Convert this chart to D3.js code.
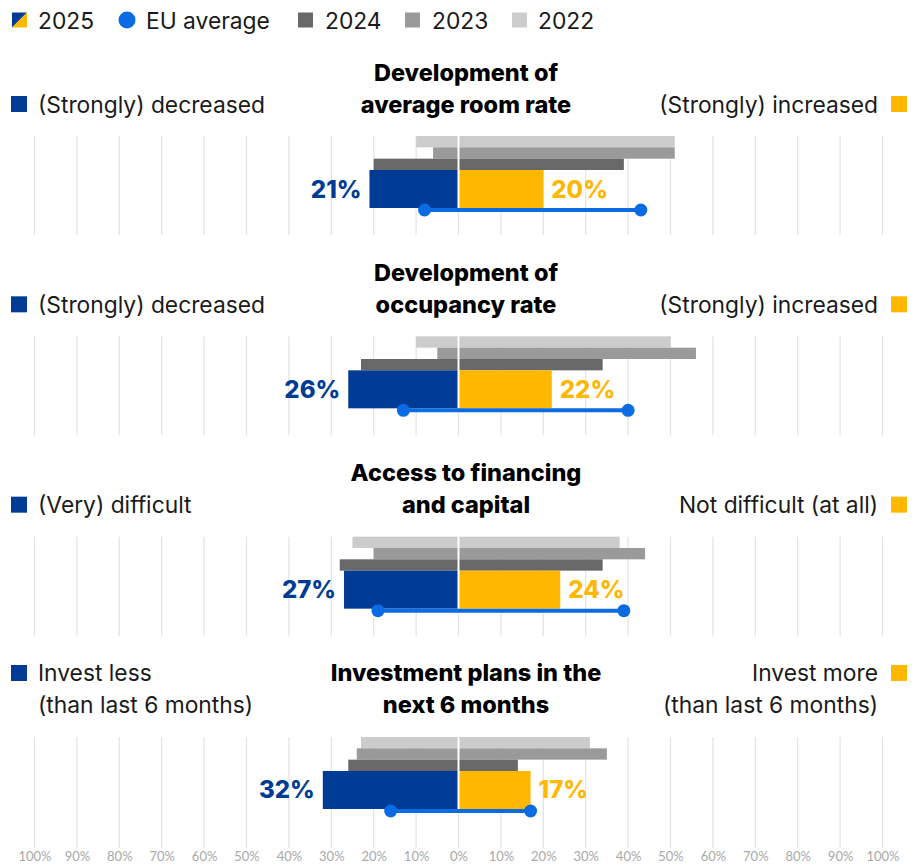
<!DOCTYPE html>
<html>
<head>
<meta charset="utf-8">
<script src="https://cdn.jsdelivr.net/npm/d3@7"></script>
<style>
  html, body { margin: 0; padding: 0; background: #fff; }
  svg { display: block; font-family: Inter, "Open Sans", sans-serif; }
</style>
</head>
<body>
<svg id="chart" width="920" height="866"></svg>
<script>
// ---- Data ----
const titles = [
  ["Development of", "average room rate"],
  ["Development of", "occupancy rate"],
  ["Access to financing", "and capital"],
  ["Investment plans in the", "next 6 months"]
];
const leftLabels = [
  ["(Strongly) decreased"],
  ["(Strongly) decreased"],
  ["(Very) difficult"],
  ["Invest less", "(than last 6 months)"]
];
const rightLabels = [
  ["(Strongly) increased"],
  ["(Strongly) increased"],
  ["Not difficult (at all)"],
  ["Invest more", "(than last 6 months)"]
];
const neg2025 = [21, 26, 27, 32];
const pos2025 = [20, 22, 24, 17];
const neg2024 = [20, 23, 28, 26];
const pos2024 = [39, 34, 34, 14];
const neg2023 = [6, 5, 20, 24];
const pos2023 = [51, 56, 44, 35];
const neg2022 = [10, 10, 25, 23];
const pos2022 = [51, 50, 38, 31];
const euNeg = [8, 13, 19, 16];
const euPos = [43, 40, 39, 17];
const tickValues = [-100, -90, -80, -70, -60, -50, -40, -30, -20, -10, 0, 10, 20, 30, 40, 50, 60, 70, 80, 90, 100];
const legendItems = ["2025", "EU average", "2024", "2023", "2022"];

// ---- Styles ----
const BLUE = "#003b95", YELLOW = "#ffb700", EU = "#0a6be3";
const GRAY = { "2024": "#686868", "2023": "#9a9a9a", "2022": "#cccccc" };
const BODY_FS = 22.8, TITLE_FS = 23.5, VALUE_FS = 24;

const svg = d3.select("#chart");
const x = d3.scaleLinear().domain([-100, 100]).range([34.5, 882.5]);
const panelY = d3.scaleLinear().domain([0, 1]).range([0, 200.33]);
const grayBand = d3.scaleBand().domain(["2022", "2023", "2024"]).range([136, 170]).padding(0);
const Y25_TOP = 170, Y25_BOT = 208, EU_Y = 210, GRID_TOP = 136, GRID_BOT = 235;

// ---- Legend ----
const legend = svg.append("g").attr("class", "legend");
const legX = [12, 119, 298, 405, 512];
const legTextX = [38, 146, 325, 432, 538];
const LEG_Y = 20;
legendItems.forEach((name, i) => {
  const g = legend.append("g");
  if (name === "2025") {
    g.append("path").attr("d", `M${legX[i]},${LEG_Y-7.5} h15 L${legX[i]},${LEG_Y+7.5} Z`).attr("fill", BLUE);
    g.append("path").attr("d", `M${legX[i]+15},${LEG_Y-7.5} v15 h-15 Z`).attr("fill", YELLOW);
  } else if (name === "EU average") {
    g.append("circle").attr("cx", legX[i] + 8).attr("cy", LEG_Y).attr("r", 8.5).attr("fill", EU);
  } else {
    g.append("rect").attr("x", legX[i]).attr("y", LEG_Y - 7.5).attr("width", 15).attr("height", 15).attr("fill", GRAY[name]);
  }
  g.append("text").attr("x", legTextX[i]).attr("y", LEG_Y).attr("dominant-baseline", "central")
    .attr("font-size", BODY_FS).attr("fill", "#1a1a1a").text(name);
});

// ---- Panels ----
titles.forEach((t, p) => {
  const g = svg.append("g").attr("transform", `translate(0,${panelY(p)})`);
  const gridBot = p === titles.length - 1 ? 848 - panelY(p) : GRID_BOT;

  // grid
  g.selectAll("line.grid").data(tickValues).join("line").attr("class", "grid")
    .attr("x1", d => x(d)).attr("x2", d => x(d))
    .attr("y1", GRID_TOP).attr("y2", gridBot)
    .attr("stroke", "#e3e3e3").attr("stroke-width", 1.2);

  // title
  g.selectAll("text.title").data(t).join("text").attr("class", "title")
    .attr("x", 466).attr("y", (d, i) => 72 + i * 32)
    .attr("text-anchor", "middle").attr("dominant-baseline", "central")
    .attr("font-size", TITLE_FS).attr("font-weight", 800).attr("fill", "#000").text(d => d);

  // side labels
  const L = leftLabels[p], R = rightLabels[p];
  const startL = L.length === 1 ? 104 : 72;
  g.append("rect").attr("x", 11).attr("y", startL - 8).attr("width", 16).attr("height", 16).attr("fill", BLUE);
  g.selectAll("text.left").data(L).join("text").attr("class", "left")
    .attr("x", 38).attr("y", (d, i) => startL + i * 32).attr("dominant-baseline", "central")
    .attr("font-size", BODY_FS).attr("fill", "#1a1a1a").text(d => d);
  const startR = R.length === 1 ? 104 : 72;
  g.append("rect").attr("x", 891).attr("y", startR - 8).attr("width", 16).attr("height", 16).attr("fill", YELLOW);
  g.selectAll("text.right").data(R).join("text").attr("class", "right")
    .attr("x", 878).attr("y", (d, i) => startR + i * 32).attr("text-anchor", "end").attr("dominant-baseline", "central")
    .attr("font-size", BODY_FS).attr("fill", "#1a1a1a").text(d => d);

  // gray bars (previous years)
  const prev = [
    { year: "2022", neg: neg2022[p], pos: pos2022[p] },
    { year: "2023", neg: neg2023[p], pos: pos2023[p] },
    { year: "2024", neg: neg2024[p], pos: pos2024[p] }
  ];
  prev.forEach(d => {
    g.append("rect").attr("x", x(-d.neg)).attr("y", grayBand(d.year))
      .attr("width", x(d.pos) - x(-d.neg)).attr("height", grayBand.bandwidth()).attr("fill", GRAY[d.year]);
  });

  // 2025 bars
  g.append("rect").attr("x", x(-neg2025[p])).attr("y", Y25_TOP)
    .attr("width", x(0) - x(-neg2025[p])).attr("height", Y25_BOT - Y25_TOP).attr("fill", BLUE);
  g.append("rect").attr("x", x(0)).attr("y", Y25_TOP)
    .attr("width", x(pos2025[p]) - x(0)).attr("height", Y25_BOT - Y25_TOP).attr("fill", YELLOW);

  // zero separator
  g.append("line").attr("x1", x(0)).attr("x2", x(0)).attr("y1", GRID_TOP).attr("y2", Y25_BOT)
    .attr("stroke", "#fff").attr("stroke-width", 2);

  // value labels
  const midY = (Y25_TOP + Y25_BOT) / 2;
  g.append("text").attr("x", x(-neg2025[p]) - 8).attr("y", midY)
    .attr("text-anchor", "end").attr("dominant-baseline", "central")
    .attr("font-size", VALUE_FS).attr("font-weight", 800).attr("fill", BLUE).text(neg2025[p] + "%");
  g.append("text").attr("x", x(pos2025[p]) + 8).attr("y", midY)
    .attr("dominant-baseline", "central")
    .attr("font-size", VALUE_FS).attr("font-weight", 800).attr("fill", YELLOW).text(pos2025[p] + "%");

  // EU average
  g.append("line").attr("x1", x(-euNeg[p])).attr("x2", x(euPos[p])).attr("y1", EU_Y).attr("y2", EU_Y)
    .attr("stroke", EU).attr("stroke-width", 4);
  g.selectAll("circle.eu").data([-euNeg[p], euPos[p]]).join("circle").attr("class", "eu")
    .attr("cx", d => x(d)).attr("cy", EU_Y).attr("r", 6.5).attr("fill", EU);
});

// ---- Axis ----
const axis = d3.axisBottom(x).tickValues(tickValues).tickSize(0).tickPadding(0)
  .tickFormat(d => Math.abs(d) + "%");
const ax = svg.append("g").attr("transform", "translate(0,852)").call(axis);
ax.select(".domain").remove();
ax.selectAll("text").attr("font-size", 13).attr("fill", "#a8a8a8")
  .attr("font-family", "Lato, 'Open Sans', sans-serif");
</script>
</body>
</html>
